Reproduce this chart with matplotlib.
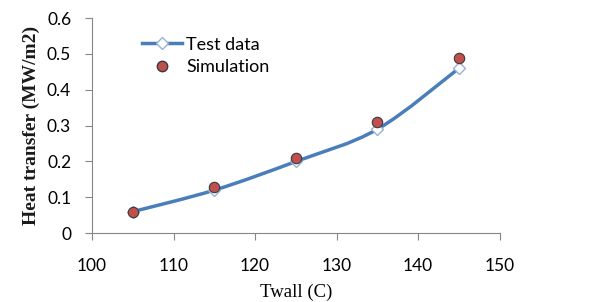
import matplotlib
matplotlib.use("Agg")
import matplotlib.pyplot as plt
from matplotlib.path import Path
from matplotlib.patches import PathPatch
from matplotlib.lines import Line2D

twall = [105, 115, 125, 135, 145]
test_data = [0.06, 0.12, 0.20, 0.29, 0.46]
simulation = [0.06, 0.13, 0.21, 0.31, 0.49]


def smooth_path(xs, ys):
    # Excel-style smoothed line: cubic bezier with catmull-rom control points
    verts = [(xs[0], ys[0])]
    codes = [Path.MOVETO]
    n = len(xs)
    for i in range(n - 1):
        x0, y0 = (xs[i - 1], ys[i - 1]) if i > 0 else (xs[i], ys[i])
        x1, y1 = xs[i], ys[i]
        x2, y2 = xs[i + 1], ys[i + 1]
        x3, y3 = (xs[i + 2], ys[i + 2]) if i + 2 < n else (x2, y2)
        c1 = (x1 + (x2 - x0) / 6, y1 + (y2 - y0) / 6)
        c2 = (x2 - (x3 - x1) / 6, y2 - (y3 - y1) / 6)
        verts += [c1, c2, (x2, y2)]
        codes += [Path.CURVE4] * 3
    return Path(verts, codes)


fig = plt.figure(figsize=(6.05, 3.02), dpi=100)
ax = fig.add_axes([0.152, 0.228, 0.674, 0.712])

line_color = "#4A7EBB"
ax.add_patch(PathPatch(smooth_path(twall, test_data), facecolor="none",
                       edgecolor=line_color, lw=2.5, zorder=2))
ax.plot(twall, test_data, ls="none", marker="D", ms=6, mfc="white",
        mec="#95B3D7", mew=1, zorder=3)
ax.plot(twall, simulation, ls="none", marker="o", ms=7.5, mfc="#C0504D",
        mec="#3a3a3a", mew=0.8, zorder=4)

ax.set_xlim(100, 150)
ax.set_ylim(0, 0.6)
ax.set_xticks([100, 110, 120, 130, 140, 150])
ax.set_yticks([0, 0.1, 0.2, 0.3, 0.4, 0.5, 0.6])
ax.set_yticklabels(["0", "0.1", "0.2", "0.3", "0.4", "0.5", "0.6"])

for s in ["top", "right"]:
    ax.spines[s].set_visible(False)
for s in ["left", "bottom"]:
    ax.spines[s].set_color("#868686")
ax.tick_params(direction="out", color="#868686", length=5, labelsize=12.5,
               labelcolor="black")
for lbl in ax.get_xticklabels() + ax.get_yticklabels():
    lbl.set_family("Lato")
ax.tick_params(axis="x", pad=13)
ax.tick_params(axis="y", pad=10)

ax.set_xlabel("Twall (C)", family="Liberation Serif", fontsize=13.5, labelpad=7)
ax.set_ylabel("Heat transfer (MW/m2)", family="Liberation Serif", fontsize=14,
              fontweight="semibold", labelpad=5, color="#1a1a1a")

handles = [
    Line2D([], [], color=line_color, lw=2.5, marker="D", ms=6, mfc="white",
           mec="#95B3D7"),
    Line2D([], [], ls="none", marker="o", ms=7.5, mfc="#C0504D", mec="#3a3a3a"),
]
ax.legend(handles, ["Test data", "Simulation"], loc="upper left",
          bbox_to_anchor=(0.083, 0.99), frameon=False, handlelength=2.2,
          handletextpad=0.25, labelspacing=0.35,
          prop={"family": "Lato", "size": 13})

fig.savefig("out.png", dpi=100)
